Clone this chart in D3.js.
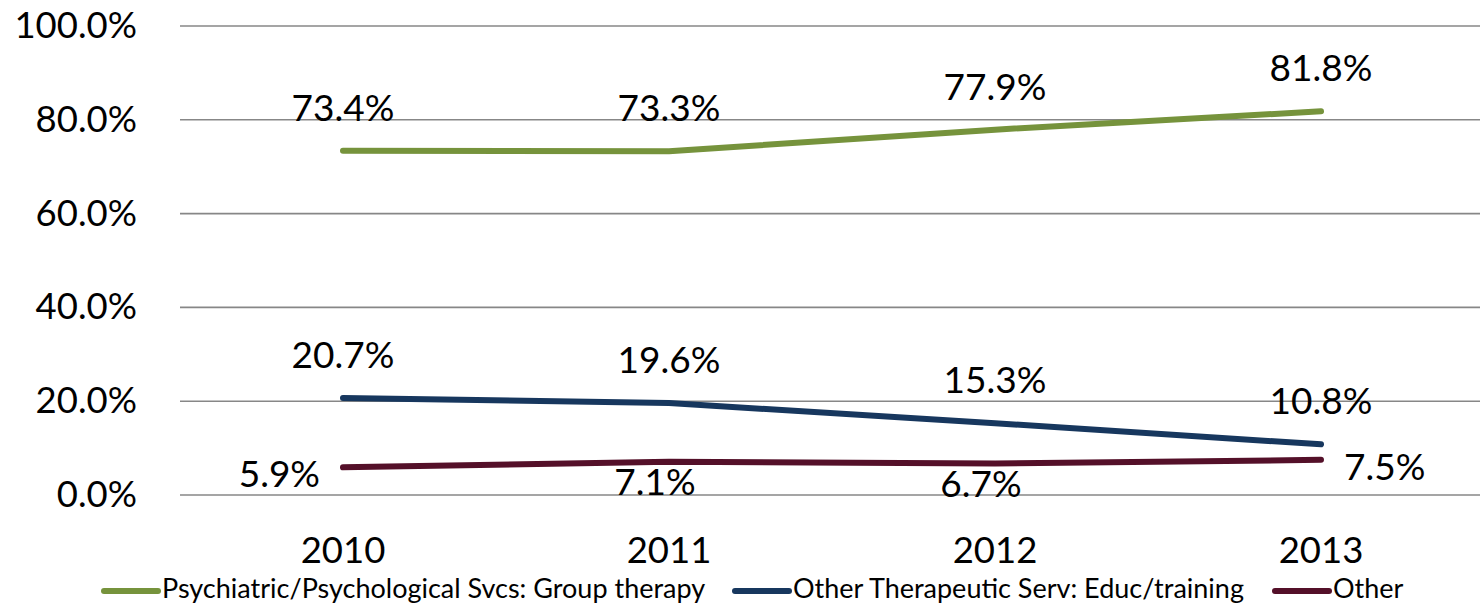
<!DOCTYPE html>
<html>
<head>
<meta charset="utf-8">
<script src="https://cdn.jsdelivr.net/npm/d3@7"></script>
<style>
  body { margin: 0; background: #fff; }
  svg text { font-family: Lato, "Open Sans", sans-serif; fill: #000; }
</style>
</head>
<body>
<svg id="chart" width="1480" height="606"></svg>
<script>
var years = ["2010", "2011", "2012", "2013"];
var seriesNames = ["Psychiatric/Psychological Svcs: Group therapy",
                   "Other Therapeutic Serv: Educ/training",
                   "Other"];
var groupTherapy = [73.4, 73.3, 77.9, 81.8];
var educTraining = [20.7, 19.6, 15.3, 10.8];
var other = [5.9, 7.1, 6.7, 7.5];
var yTicks = [0, 20, 40, 60, 80, 100];

var colors = ["#76933c", "#17375e", "#541029"];
// where each data label sits relative to its point
var labelPlace = [
  ["above", "above", "above", "above"],
  ["above", "above", "above", "above"],
  ["left", "below", "below", "right"]
];

var series = [groupTherapy, educTraining, other].map(function(vals, i) {
  return {name: seriesNames[i], color: colors[i], place: labelPlace[i],
          values: vals.map(function(v, j) { return {year: years[j], v: v}; })};
});

var svg = d3.select("#chart");
var plotL = 180, plotR = 1484, plotT = 26, plotB = 495;

var x = d3.scalePoint().domain(years).range([plotL, plotR]).padding(0.5);
var y = d3.scaleLinear().domain([0, 100]).range([plotB, plotT]);

// gridlines
svg.append("g").selectAll("line")
  .data(yTicks)
  .enter().append("line")
    .attr("x1", plotL).attr("x2", 1480)
    .attr("y1", function(d) { return y(d); })
    .attr("y2", function(d) { return y(d); })
    .style("stroke", "#878787")
    .style("stroke-width", 1.6);

// y axis labels
svg.append("g").selectAll("text")
  .data(yTicks)
  .enter().append("text")
    .attr("x", 137)
    .attr("y", function(d) { return y(d) + 12; })
    .attr("text-anchor", "end")
    .style("font-size", "36.5px")
    .text(function(d) { return d.toFixed(1) + "%"; });

// x axis labels
svg.append("g").selectAll("text")
  .data(years)
  .enter().append("text")
    .attr("x", function(d) { return x(d); })
    .attr("y", 563)
    .attr("text-anchor", "middle")
    .style("font-size", "36.5px")
    .text(function(d) { return d; });

var line = d3.line()
  .x(function(d) { return x(d.year); })
  .y(function(d) { return y(d.v); });

svg.append("g").selectAll("path")
  .data(series)
  .enter().append("path")
    .attr("d", function(d) { return line(d.values); })
    .style("fill", "none")
    .style("stroke", function(d) { return d.color; })
    .style("stroke-width", 6)
    .style("stroke-linecap", "round")
    .style("stroke-linejoin", "round");

// data labels
series.forEach(function(s) {
  svg.append("g").selectAll("text")
    .data(s.values)
    .enter().append("text")
      .style("font-size", "37px")
      .attr("text-anchor", function(d, i) {
        var p = s.place[i];
        return p == "left" ? "end" : p == "right" ? "start" : "middle";
      })
      .attr("x", function(d, i) {
        var p = s.place[i], px = x(d.year);
        if (p == "left") return px - 23;
        if (p == "right") return px + 23;
        if (p == "below") return px - 14;
        return px;
      })
      .attr("y", function(d, i) {
        var p = s.place[i], py = y(d.v);
        if (p == "above") return py - 30;
        if (p == "below") return py + 33;
        return py + 20;
      })
      .text(function(d) { return d.v.toFixed(1) + "%"; });
});

// legend
var legendX = [104, 735, 1275];
var legend = svg.append("g").selectAll("g")
  .data(series)
  .enter().append("g")
    .attr("transform", function(d, i) { return "translate(" + legendX[i] + ",591)"; });
legend.append("line")
  .attr("x1", 0).attr("x2", 54)
  .style("stroke", function(d) { return d.color; })
  .style("stroke-width", 6)
  .style("stroke-linecap", "round");
legend.append("text")
  .attr("x", 58)
  .attr("y", 7)
  .style("font-size", "27px")
  .text(function(d) { return d.name; });
</script>
</body>
</html>
